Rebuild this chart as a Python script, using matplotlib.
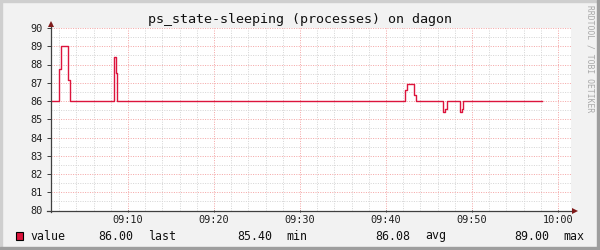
import matplotlib
matplotlib.use("Agg")
import matplotlib.pyplot as plt
from matplotlib.patches import Rectangle
from matplotlib.ticker import MultipleLocator

# ---- data (minutes after 09:00, step values) ----
times = [0.9, 2.01, 2.24, 3.06, 3.29, 8.37, 8.60, 8.76, 42.24, 42.48, 43.26,
         43.49, 46.67, 46.83, 47.06, 48.60, 48.84, 48.99, 58.17]
values = [86.0, 87.78, 89.0, 87.17, 86.0, 88.39, 87.56, 86.0, 86.59, 86.95, 86.35,
          86.0, 85.40, 85.58, 86.0, 85.40, 85.58, 86.0, 86.0]
x_ticks = [10, 20, 30, 40, 50, 60]
x_tick_labels = ["09:10", "09:20", "09:30", "09:40", "09:50", "10:00"]
y_ticks = [80, 81, 82, 83, 84, 85, 86, 87, 88, 89, 90]
title = "ps_state-sleeping (processes) on dagon"
series_name = "value"
stat_values = ["86.00", "85.40", "86.08", "89.00"]
stat_names = ["last", "min", "avg", "max"]

W, H = 600, 250
LINE = "#DC143C"
MONO = "DejaVu Sans Mono"

fig = plt.figure(figsize=(W / 100, H / 100), dpi=100, facecolor="#F2F2F2")

def fx(x):
    return x / W

def fy(y):
    return 1 - y / H

# frame (3D-ish border)
fig.patches.append(Rectangle((0, fy(2)), 1, 2 / H, transform=fig.transFigure,
                             color="#CFCFCF", zorder=-5))
fig.patches.append(Rectangle((0, 0), 2 / W, 1, transform=fig.transFigure,
                             color="#CFCFCF", zorder=-5))
fig.patches.append(Rectangle((0, 0), 1, 3 / H, transform=fig.transFigure,
                             color="#9E9E9E", zorder=-4))
fig.patches.append(Rectangle((fx(597), 0), 3 / W, 1, transform=fig.transFigure,
                             color="#9E9E9E", zorder=-4))

ax_l, ax_r, ax_t, ax_b = 50.5, 571.5, 28.0, 210.5
ax = fig.add_axes([fx(ax_l), fy(ax_b), (ax_r - ax_l) / W, (ax_b - ax_t) / H])
ax.set_facecolor("white")
ax.set_xlim(0.99, 61.57)
ax.set_ylim(80, 90)

# grid
ax.xaxis.set_major_locator(MultipleLocator(10))
ax.xaxis.set_minor_locator(MultipleLocator(2))
ax.yaxis.set_major_locator(MultipleLocator(1))
ax.yaxis.set_minor_locator(MultipleLocator(0.5))
ax.grid(which="minor", color="#D6D6D6", linestyle=(0, (1, 1.4)), linewidth=0.72, zorder=0)
ax.grid(which="major", color="#F5A8A8", linestyle=(0, (1, 1.4)), linewidth=0.72, zorder=0.5)
ax.set_axisbelow(True)

ax.step(times, values, where="post", color=LINE, linewidth=1.0, zorder=3)

ax.set_xticks(x_ticks)
ax.set_xticklabels(x_tick_labels)
ax.set_yticks(y_ticks)
ax.set_yticklabels([str(v) for v in y_ticks])
for lab in ax.get_xticklabels() + ax.get_yticklabels():
    lab.set_fontfamily(MONO)
    lab.set_fontsize(7.4)
    lab.set_color("#202020")
ax.tick_params(axis="y", which="major", length=3, width=0.72, color="#404040", pad=2.6)
ax.tick_params(axis="x", which="major", length=2, width=0.72, color="#404040",
               direction="inout", pad=2.2)
ax.tick_params(which="minor", length=0)

for s in ["top", "right", "left", "bottom"]:
    ax.spines[s].set_visible(False)

# axis lines with arrows
AX_C = "#404040"
ARR_C = "#7F1A1A"
top_ext = 1 + (ax_t - 21.5) / (ax_b - ax_t)
right_ext = 1 + (577 - ax_r) / (ax_r - ax_l)
ax.plot([0, 0], [-0.01, top_ext - 0.01], transform=ax.transAxes, color=AX_C,
        linewidth=0.9, clip_on=False, zorder=5)
ax.plot([-0.006, right_ext - 0.005], [0, 0], transform=ax.transAxes, color=AX_C,
        linewidth=0.9, clip_on=False, zorder=5)
ax.plot([0], [top_ext - 0.012], transform=ax.transAxes, marker="^", markersize=4.5,
        color=ARR_C, clip_on=False, zorder=6, markeredgewidth=0)
ax.plot([right_ext - 0.004], [0], transform=ax.transAxes, marker=">", markersize=4.5,
        color=ARR_C, clip_on=False, zorder=6, markeredgewidth=0)

# title
fig.text(0.5, fy(19.0), title, ha="center", va="center", fontfamily=MONO,
         fontsize=9.6, color="#101010")

# watermark
fig.text(fx(590), fy(5), "RRDTOOL / TOBI OETIKER", rotation=270, ha="center", va="top",
         fontfamily=MONO, fontsize=5.8, color="#A8A8A8")

# legend
ly = fy(236)
fig.patches.append(Rectangle((fx(15.5), fy(240)), 7.5 / W, 8 / H, transform=fig.transFigure,
                             facecolor=LINE, edgecolor="black", linewidth=0.8, zorder=5))
fig.text(fx(30), ly, series_name, ha="left", va="center", fontfamily=MONO, fontsize=8.4,
         color="#101010")
val_right = [133.5, 272, 410.5, 549]
name_left = [148.5, 286.5, 425, 563]
for v, n, xr, xl in zip(stat_values, stat_names, val_right, name_left):
    fig.text(fx(xr), ly, v, ha="right", va="center", fontfamily=MONO, fontsize=8.4,
             color="#101010")
    fig.text(fx(xl), ly, n, ha="left", va="center", fontfamily=MONO, fontsize=8.4,
             color="#101010")

fig.savefig("out.png", dpi=100, facecolor=fig.get_facecolor())
